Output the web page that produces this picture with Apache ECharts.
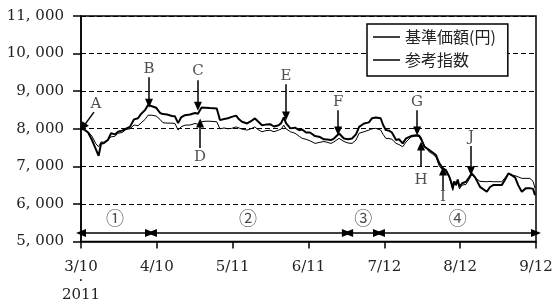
<!DOCTYPE html>
<html>
<head>
<meta charset="utf-8">
<script src="https://cdn.jsdelivr.net/npm/echarts@6/dist/echarts.min.js"></script>
<style>
html, body { margin: 0; padding: 0; background: #fff; }
#chart { width: 558px; height: 303px; }
</style>
</head>
<body>
<div id="chart"></div>
<script>
// 日数 (2011/3/10 からの経過日)
var days = [
    0, 1.2, 2.9, 4.5, 6.1, 7.2, 8.2, 9.4, 11, 12.3,
    13.9, 15.1, 16.8, 18.4, 20, 21.7, 23.3, 24.5, 26.2, 27.4,
    29, 30.7, 32.3, 33.5, 35.2, 37.2, 38.4, 39.7, 40.9, 42.5,
    44.6, 46.6, 47.8, 49.3, 50.7, 52.7, 55.5, 56.8, 58.5, 60.1,
    61.6, 63.4, 64.6, 65.8, 67.9, 69.5, 71.1, 72.3, 74, 75.6,
    77.3, 78.9, 80.8, 81.8, 82.9, 83.8, 85.6, 87.5, 89.2, 90.4,
    92, 93.6, 95.7, 97.7, 99.3, 100.6, 102.2, 103.4, 105.5, 107.5,
    109.2, 110.8, 112.4, 113.7, 115.7, 117.7, 119, 120.5, 122.5, 123.5,
    124.6, 125.9, 127.1, 128.8, 130, 131.5, 132.9, 134.9, 137, 138.2,
    139, 140.4, 142.4, 143.5, 145.1, 146.5, 147.9, 149.2, 150.6, 151.3,
    152, 152.5, 153.3, 154, 154.7, 155.8, 157.4, 158.6, 159.7, 161,
    163.1, 165.9, 167.2, 168.5, 172, 173.4, 174.7, 175.8, 177.5, 178.7,
    180.2, 181.9, 183.5, 184.8, 185.6
];

// 基準価額(円)
var fundValues = [
    8000, 7980, 7900, 7700, 7450, 7280, 7600, 7620, 7700, 7880,
    7850, 7920, 7950, 8000, 8050, 8250, 8280, 8390, 8500, 8630,
    8600, 8560, 8420, 8390, 8380, 8340, 8330, 8150, 8300, 8360,
    8380, 8420, 8400, 8565, 8560, 8550, 8540, 8230, 8260, 8280,
    8315, 8350, 8250, 8185, 8140, 8200, 8275, 8200, 8095, 8110,
    8120, 8060, 8095, 8150, 8300, 8150, 8010, 8030, 7960, 7980,
    7900, 7900, 7805, 7780, 7720, 7715, 7700, 7740, 7875, 7740,
    7720, 7740, 7850, 8050, 8140, 8170, 8280, 8300, 8280, 8100,
    7965, 7950, 7900, 7700, 7720, 7610, 7745, 7805, 7830, 7820,
    7745, 7520, 7430, 7380, 7300, 7080, 6945, 6900, 6720, 6580,
    6415, 6600, 6500, 6650, 6455, 6550, 6590, 6700, 6810, 6720,
    6455, 6325, 6450, 6500, 6500, 6650, 6810, 6780, 6700, 6500,
    6325, 6420, 6420, 6400, 6235
];

// 参考指数
var indexValues = [
    8000, 7990, 7920, 7800, 7600, 7520, 7650, 7640, 7720, 7785,
    7800, 7880, 7900, 7980, 8000, 8100, 8080, 8150, 8250, 8360,
    8360, 8340, 8250, 8160, 8150, 8150, 8140, 7965, 8050, 8095,
    8100, 8140, 8120, 8185, 8200, 8200, 8185, 8000, 8020, 8000,
    8010, 8050, 8020, 7990, 7965, 8000, 8050, 7980, 7920, 7950,
    7960, 7920, 7965, 7990, 8095, 8000, 7920, 7880, 7800, 7745,
    7720, 7680, 7610, 7640, 7660, 7640, 7610, 7650, 7745, 7660,
    7620, 7610, 7700, 7880, 7920, 7965, 8000, 8010, 7965, 7850,
    7745, 7740, 7720, 7610, 7580, 7520, 7650, 7780, 7805, 7790,
    7700, 7560, 7380, 7340, 7250, 7000, 6900, 6850, 6700, 6550,
    6360, 6550, 6520, 6620, 6400, 6500, 6520, 6650, 6780, 6700,
    6600, 6590, 6600, 6590, 6590, 6700, 6800, 6760, 6750, 6720,
    6680, 6680, 6680, 6600, 6415
];

var xLabels = ["3/10\n·\n2011", "4/10", "5/11", "6/11", "7/12", "8/12", "9/12"];
var seriesNames = ["基準価額(円)", "参考指数"];

// 注記 A〜J : 文字位置, 矢印の始点, 矢印の先
var noteNames = ["A", "B", "C", "D", "E", "F", "G", "H", "I", "J"];
var noteText = [[6.1, 8655], [27.8, 9585], [47.8, 9532], [48.7, 7246], [83.8, 9399],
                [105.1, 8708], [137.4, 8708], [139, 6635], [148, 6183], [159.4, 7777]];
var noteFrom = [[5.3, 8442], [27.8, 9372], [47.8, 9293], [48.7, 7485], [83.8, 9186],
                [105.1, 8495], [137.4, 8495], [139, 6980], [148, 6369], [159.4, 7538]];
var noteTo = [[0.8, 8043], [27.8, 8681], [47.8, 8600], [48.7, 8150], [83.8, 8336],
              [105.1, 7937], [137.4, 7937], [139, 7538], [148, 6874], [159.4, 6874]];

// 期間 ①〜④
var periodNames = ["①", "②", "③", "④"];
var periodMid = [13.9, 68.3, 115.4, 154];
var periodFrom = [0, 29, 109.2, 122.2];
var periodTo = [28.2, 108.7, 121.4, 186];
var periodArrowY = 5226;
var periodLabelY = 5625;

var SERIF = "'DejaVu Serif', 'Noto Sans CJK JP', serif";

function pairs(xs, ys) {
    var out = [];
    for (var i = 0; i < xs.length && i < ys.length; i++) {
        out.push([xs[i], ys[i]]);
    }
    return out;
}

var noteData = noteNames.map(function (n, i) {
    return { name: n, value: noteText[i] };
});
var noteLines = noteNames.map(function (n, i) {
    return [{ coord: noteFrom[i] }, { coord: noteTo[i] }];
});
var periodData = periodNames.map(function (n, i) {
    return { name: n, value: [periodMid[i], periodLabelY] };
});
var periodLines = periodNames.map(function (n, i) {
    return [{ coord: [periodFrom[i], periodArrowY] }, { coord: [periodTo[i], periodArrowY] }];
});

var chart = echarts.init(document.getElementById("chart"));

var option = {
    animation: false,
    backgroundColor: "#fff",
    grid: {
        left: 81,
        right: 22,
        top: 16,
        bottom: 61,
        show: true,
        borderColor: "#000",
        borderWidth: 1.5
    },
    legend: {
        data: [
            { name: seriesNames[0], icon: "rect" },
            { name: seriesNames[1], icon: "rect" }
        ],
        orient: "vertical",
        left: 367,
        top: 24,
        padding: [4, 12, 7, 6],
        itemWidth: 27,
        itemHeight: 1.5,
        itemGap: 5,
        backgroundColor: "#fff",
        borderColor: "#000",
        borderWidth: 1.5,
        borderRadius: 0,
        z: 10,
        textStyle: {
            fontFamily: "'Noto Sans CJK JP', sans-serif",
            fontSize: 16,
            lineHeight: 18,
            color: "#222"
        }
    },
    xAxis: {
        type: "value",
        min: 0,
        max: 186,
        interval: 31,
        axisLine: { lineStyle: { color: "#000", width: 1.5 } },
        axisTick: { show: true, length: 7, lineStyle: { color: "#000", width: 1.5 } },
        splitLine: { show: false },
        axisLabel: {
            margin: 19,
            fontFamily: SERIF,
            fontSize: 15,
            lineHeight: 14,
            color: "#222",
            formatter: function (v) {
                return xLabels[Math.round(v / 31)];
            }
        }
    },
    yAxis: {
        type: "value",
        min: 5000,
        max: 11000,
        interval: 1000,
        axisLine: { show: true, lineStyle: { color: "#000", width: 1.5 } },
        axisTick: { show: true, length: 8, lineStyle: { color: "#000", width: 1.5 } },
        splitLine: { show: true, lineStyle: { color: "#000", width: 1, type: [5, 3] } },
        axisLabel: {
            margin: 17,
            fontFamily: SERIF,
            fontSize: 15,
            color: "#222",
            formatter: function (v) {
                return Math.floor(v / 1000) + ", 000";
            }
        }
    },
    series: [
        {
            name: seriesNames[0],
            type: "line",
            data: pairs(days, fundValues),
            symbol: "none",
            lineStyle: { color: "#000", width: 2 },
            itemStyle: { color: "#000" },
            z: 3
        },
        {
            name: seriesNames[1],
            type: "line",
            data: pairs(days, indexValues),
            symbol: "none",
            lineStyle: { color: "#000", width: 1 },
            itemStyle: { color: "#000" },
            z: 3
        },
        {
            // 注記 A〜J
            name: "notes",
            type: "scatter",
            data: noteData,
            symbolSize: 1,
            itemStyle: { color: "transparent" },
            silent: true,
            label: {
                show: true,
                position: "inside",
                formatter: "{b}",
                fontFamily: SERIF,
                fontSize: 15,
                color: "#222"
            },
            markLine: {
                silent: true,
                symbol: ["none", "triangle"],
                symbolSize: [8, 9],
                label: { show: false },
                lineStyle: { color: "#000", width: 1.5, type: "solid" },
                data: noteLines
            },
            z: 5
        },
        {
            // 期間 ①〜④
            name: "periods",
            type: "scatter",
            data: periodData,
            symbolSize: 1,
            itemStyle: { color: "transparent" },
            silent: true,
            label: {
                show: true,
                position: "inside",
                formatter: "{b}",
                fontFamily: "'Noto Sans CJK JP', sans-serif",
                fontSize: 18,
                color: "#222"
            },
            markLine: {
                silent: true,
                symbol: ["triangle", "triangle"],
                symbolSize: [8, 10],
                label: { show: false },
                lineStyle: { color: "#000", width: 1.5, type: "solid" },
                data: periodLines
            },
            z: 5
        }
    ]
};

chart.setOption(option);
</script>
</body>
</html>
